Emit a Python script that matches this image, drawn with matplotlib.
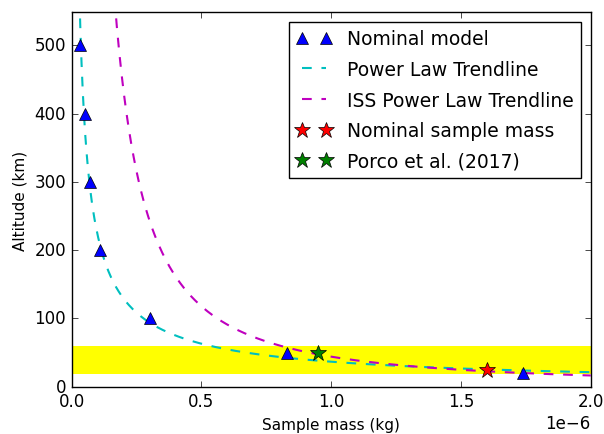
"""Sample mass vs altitude with power-law trendlines (classic mpl look)."""
import numpy as np
import matplotlib
matplotlib.use("Agg")
import matplotlib.pyplot as plt

# nominal model points (mass in 1e-6 kg, altitude in km)
model_mass = [0.031, 0.051, 0.070, 0.109, 0.300, 0.830, 1.740]
model_alt = [500, 400, 300, 200, 100, 50, 20]

# ISS power law trendline: alt = ISS_COEF * mass**ISS_EXP (mass in 1e-6 kg)
ISS_COEF = 44.0
ISS_EXP = -1.42

nominal_mass, nominal_alt = [1.60], [25]
porco_mass, porco_alt = [0.95], [50]

band = (18, 60)   # yellow altitude band, km
SCALE = 1e-6
DASH = (7, 7)


def main() -> None:
    plt.style.use("classic")
    fig = plt.figure(figsize=(6.04, 4.35), dpi=100, facecolor="white")
    ax = fig.add_axes([0.1187, 0.1087, 0.8593, 0.8603])

    ax.axhspan(*band, color="yellow", lw=0, zorder=0)

    # power law fit of the nominal model in log-log space
    b, lna = np.polyfit(np.log(model_mass), np.log(model_alt), 1)
    xs = np.linspace(0.028, 2.0, 400)
    ax.plot(xs * SCALE, np.exp(lna) * xs ** b, color="c", ls="--", lw=1.5,
            dashes=DASH, label="Power Law Trendline", zorder=2)

    xs_iss = np.linspace(0.165, 2.0, 400)
    ax.plot(xs_iss * SCALE, ISS_COEF * xs_iss ** ISS_EXP, color="m", ls="--",
            lw=1.5, dashes=DASH, label="ISS Power Law Trendline", zorder=2)

    ax.plot(np.array(model_mass) * SCALE, model_alt, "b^", ms=8,
            label="Nominal model", zorder=3)
    ax.plot(np.array(nominal_mass) * SCALE, nominal_alt, "r*", ms=12,
            label="Nominal sample mass", zorder=3)
    ax.plot(np.array(porco_mass) * SCALE, porco_alt, "g*", ms=12,
            label="Porco et al. (2017)", zorder=3)

    ax.set_xlim(0, 2.0e-6)
    ax.set_ylim(0, 548)
    ax.ticklabel_format(axis="x", style="sci", scilimits=(0, 0))
    ax.set_xlabel("Sample mass (kg)", fontsize=11)
    ax.set_ylabel("Altitude (km)", fontsize=11)

    h, l = ax.get_legend_handles_labels()
    order = [2, 0, 1, 3, 4]
    ax.legend([h[i] for i in order], [l[i] for i in order],
              loc="upper right", numpoints=2, fontsize=13.5,
              labelspacing=0.62, handlelength=1.9)

    fig.savefig("out.png", dpi=100, facecolor="white")
    plt.close(fig)


if __name__ == "__main__":
    main()
